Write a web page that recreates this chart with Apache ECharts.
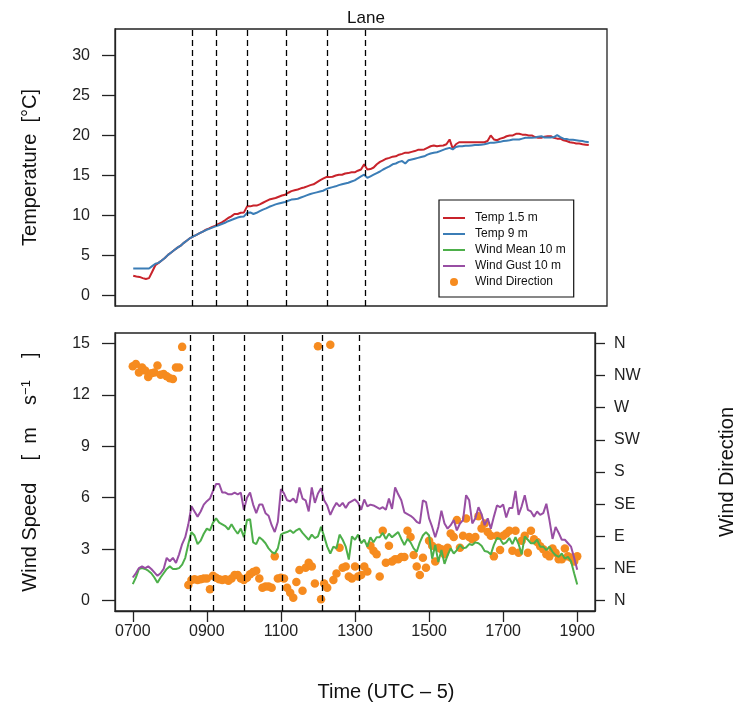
<!DOCTYPE html>
<html><head><meta charset="utf-8">
<script src="https://cdn.jsdelivr.net/npm/echarts@6/dist/echarts.min.js"></script>
<style>html,body{margin:0;padding:0;background:#fff}#c{width:745px;height:717px}</style>
</head><body><div id="c"></div>
<script>
// Sampling grid: 07:00 to 19:00, every 5 minutes
const startHour = 7;
const stepMinutes = 5;

// Temperature at 1.5 m (deg C)
const temp15 = [
 2.5,2.4,2.35,2.2,2.1,2.2,3.0,3.8,4.1,4.4,4.7,5.1,
 5.4,5.7,6.0,6.25,6.6,6.9,7.2,7.4,7.6,7.8,8.0,8.25,
 8.4,8.6,8.75,8.95,9.15,9.4,9.7,9.9,10.2,10.2,10.35,10.4,
 11.15,11.15,11.25,11.25,11.4,11.6,11.8,12.0,12.1,12.2,12.35,12.5,
 12.6,12.85,13.05,13.15,13.25,13.4,13.5,13.65,13.8,13.9,14.15,14.4,
 14.6,14.8,14.8,14.85,15.0,15.1,15.1,15.25,15.3,15.4,15.4,15.6,
 15.75,16.4,15.75,15.8,16.0,16.4,16.7,16.9,17.1,17.2,17.35,17.4,
 17.6,17.7,17.85,17.85,17.95,18.05,18.2,18.2,18.25,18.45,18.65,18.75,
 18.65,18.7,18.75,18.9,19.5,18.35,18.9,19.15,19.15,19.15,19.15,19.15,
 19.15,19.15,19.15,19.15,19.3,20.0,19.5,19.4,19.6,19.7,19.9,20.0,
 20.0,20.2,20.2,20.1,20.1,20.0,20.0,19.8,19.7,19.7,19.85,19.9,
 19.9,19.7,19.6,19.6,19.4,19.3,19.15,19.1,19.0,19.0,18.9,18.85,
 18.8];

// Temperature at 9 m (deg C)
const temp9 = [
 3.4,3.4,3.4,3.4,3.4,3.4,3.7,4.0,4.1,4.4,4.7,5.1,
 5.4,5.7,6.0,6.25,6.6,6.9,7.2,7.4,7.6,7.8,8.0,8.2,
 8.35,8.5,8.65,8.8,8.95,9.1,9.3,9.45,9.6,9.75,9.85,9.9,
 10.35,10.4,10.2,10.35,10.55,10.75,10.9,11.1,11.25,11.4,11.5,11.6,
 11.7,11.85,12.0,12.05,12.1,12.25,12.4,12.55,12.7,12.8,12.9,13.0,
 13.1,13.3,13.45,13.55,13.65,13.8,13.9,14.0,14.1,14.25,14.4,14.65,
 14.9,15.1,14.7,14.9,15.1,15.3,15.5,15.75,15.95,16.15,16.4,16.5,
 16.7,16.8,16.5,16.9,17.0,17.1,17.2,17.3,17.4,17.6,17.75,17.85,
 17.9,18.05,18.2,18.35,18.45,18.25,18.55,18.65,18.65,18.7,18.7,18.75,
 18.8,18.8,18.85,18.9,19.0,19.1,19.1,19.15,19.2,19.3,19.35,19.4,
 19.5,19.5,19.5,19.6,19.7,19.7,19.7,19.75,19.85,19.9,19.75,19.75,
 19.75,19.8,20.05,19.8,19.6,19.55,19.45,19.45,19.4,19.35,19.3,19.2,
 19.15];

// Wind mean 10 m (m/s)
const windMean = [
 0.97,1.35,1.85,1.9,1.85,1.75,1.6,1.35,1.05,1.35,1.6,1.85,
 2.0,1.85,1.85,1.9,2.1,2.5,3.3,4.0,3.8,3.3,3.5,3.9,
 4.2,4.1,4.55,4.8,4.55,4.45,4.35,4.15,4.45,4.15,3.9,4.2,
 3.7,4.7,4.75,3.4,3.3,3.7,3.55,3.35,3.05,2.85,2.75,3.05,
 3.85,3.95,4.0,4.1,3.95,4.1,4.2,3.95,3.75,3.55,3.85,3.65,
 3.75,4.3,3.75,3.15,2.75,3.15,3.05,3.85,3.55,3.15,2.4,3.75,
 3.55,3.85,3.35,3.55,3.15,3.7,3.4,3.7,3.7,3.95,3.6,3.9,
 3.7,3.85,4.0,3.6,3.25,3.6,3.4,3.05,2.85,3.4,3.8,4.0,
 3.8,2.45,3.25,2.25,2.95,2.15,2.65,3.05,2.75,2.95,3.25,3.05,
 3.1,3.3,3.25,3.4,3.35,3.2,2.9,2.85,2.7,3.25,3.65,3.6,
 3.3,3.4,3.65,3.3,3.7,3.3,2.7,3.75,3.55,3.35,3.35,3.55,
 3.15,3.15,2.95,3.15,2.85,2.65,2.55,2.75,2.45,2.55,2.3,1.6,
 0.95];

// Wind gust 10 m (m/s)
const windGust = [
 1.35,1.6,1.9,2.0,1.9,2.0,1.85,1.65,1.45,1.6,1.85,2.5,
 2.3,2.5,2.2,2.7,3.3,3.7,4.45,5.5,5.2,4.9,5.2,5.6,
 5.8,5.95,6.4,6.8,6.8,6.3,6.3,6.2,6.2,6.3,6.2,6.3,
 5.3,6.0,6.3,5.6,5.1,5.6,5.6,5.1,4.95,4.4,4.0,4.6,
 6.5,6.25,5.85,5.8,5.95,5.7,6.6,5.95,5.85,5.2,6.6,5.7,
 6.25,6.55,5.85,5.55,5.0,5.4,5.7,5.5,5.7,5.4,5.7,5.8,
 5.9,5.7,5.3,5.9,5.5,5.6,5.55,5.45,5.35,5.45,5.3,5.95,
 5.35,6.6,6.2,5.85,5.15,5.05,4.95,4.8,4.6,4.5,5.85,5.75,
 4.8,4.3,3.7,4.3,5.25,4.5,4.2,4.4,4.7,4.1,4.5,4.7,
 6.15,5.85,4.5,4.8,5.45,5.05,4.4,4.8,4.2,4.9,5.55,5.45,
 5.6,4.85,5.4,5.4,6.4,5.0,5.5,6.15,5.3,5.2,4.9,5.2,
 5.0,5.1,5.65,4.7,3.6,4.3,3.95,3.55,3.55,3.35,3.15,2.5,
 1.8];

// Wind direction (degrees from N)
const windDir = [
 328,331,319,326,322,313,318,319,329,316,317,314,
 311,310,326,326,355,null,22,29,30,29,30,31,
 31,16,35,32,30,29,30,28,31,36,36,31,
 29,32,37,40,42,31,18,20,20,18,62,31,
 32,31,18,11,4,26,43,14,46,53,48,24,
 356,2,24,18,358,29,38,74,46,48,34,31,
 48,34,36,48,41,77,70,65,34,98,53,77,
 55,58,58,61,61,98,89,64,48,36,60,46,
 84,77,55,74,72,65,74,94,89,113,74,91,
 115,89,86,89,118,101,108,96,91,62,91,71,
 91,94,98,70,98,67,84,91,67,98,86,82,
 76,72,65,62,73,67,58,58,73,62,60,55,
 62];

// Dashed event times (hours)
const eventHours = [8.56, 9.18, 10.0, 11.03, 12.12, 13.11];

// Ticks
const timeTicks = [7, 9, 11, 13, 15, 17, 19];
const timeTickLabels = ['0700','0900','1100','1300','1500','1700','1900'];
const tempTicks = [0, 5, 10, 15, 20, 25, 30];
const speedTicks = [0, 3, 6, 9, 12, 15];
const dirTicks = [0, 45, 90, 135, 180, 225, 270, 315, 360];
const dirTickLabels = ['N','NE','E','SE','S','SW','W','NW','N'];

const seriesNames = ['Temp 1.5 m','Temp 9 m','Wind Mean 10 m','Wind Gust 10 m','Wind Direction'];
const colors = {t15:'#C8232B', t9:'#3B7DB6', mean:'#4DAF4A', gust:'#984EA3', dir:'#F68B1F'};

function toPairs(arr) {
  return arr.map((v, i) => [startHour + i * stepMinutes / 60, v]);
}

const FONT = 'Liberation Sans, Arial, sans-serif';
const axisCol = '#222';

const xRange = {min: 6.52, max: 19.48};
const tempRange = {min: -1.28, max: 33.28};
const speedRange = {min: -0.6, max: 15.6};
const dirRange = {min: -14.4, max: 374.4};

const labelStyle = {fontFamily: FONT, fontSize: 16, color: '#222'};
const titleStyle = {fontFamily: FONT, fontSize: 20, color: '#111'};
// thin horizontal bar inside an 22x8 box (used as legend line icon)
const lineIcon = 'path://M0,0 L22,0 L22,0 Z M0,3 L22,3 L22,5 L0,5 Z M0,8 L22,8 L22,8 Z';
const dashLine = {
  symbol: 'none', silent: true, animation: false,
  label: {show: false},
  lineStyle: {color: '#000', type: [6, 4], width: 1.3},
  data: eventHours.map(h => ({xAxis: h}))
};

const chart = echarts.init(document.getElementById('c'), null, {renderer: 'canvas'});
chart.setOption({
  animation: false,
  backgroundColor: '#fff',
  title: {
    text: 'Lane', left: 361, top: 5, textAlign: 'center',
    textStyle: {fontFamily: FONT, fontSize: 17, fontWeight: 'normal', color: '#111'}
  },
  legend: {
    data: [
      {name: seriesNames[0], icon: lineIcon}, {name: seriesNames[1], icon: lineIcon},
      {name: seriesNames[2], icon: lineIcon}, {name: seriesNames[3], icon: lineIcon},
      {name: seriesNames[4], icon: 'circle'}
    ],
    orient: 'vertical', left: 439, top: 200,
    itemWidth: 22, itemHeight: 8, itemGap: 4,
    padding: [12, 8, 9, 4],
    backgroundColor: '#fff', borderColor: '#111', borderWidth: 1.2,
    textStyle: {fontFamily: FONT, fontSize: 12, color: '#111', padding: [0, 0, 0, 5]},
    selectedMode: false
  },
  grid: [
    {left: 115, right: 138, top: 29, height: 277, show: true, borderColor: axisCol, borderWidth: 1.3, backgroundColor: 'transparent'},
    {left: 115, right: 138, top: 333, height: 278, show: true, borderColor: axisCol, borderWidth: 1.3, backgroundColor: 'transparent'}
  ],
  xAxis: [
    {type: 'value', gridIndex: 0, min: xRange.min, max: xRange.max,
     axisLine: {show: false}, axisTick: {show: false}, axisLabel: {show: false}, splitLine: {show: false}},
    {type: 'value', gridIndex: 1, min: xRange.min, max: xRange.max,
     axisLine: {show: true, onZero: false, lineStyle: {color: axisCol, width: 1.3}},
     axisTick: {show: true, customValues: timeTicks, length: 11, lineStyle: {color: axisCol, width: 1.3}},
     axisLabel: {show: true, customValues: timeTicks, margin: 13, ...labelStyle,
       formatter: v => timeTickLabels[timeTicks.indexOf(Math.round(v))] || ''},
     splitLine: {show: false},
     name: 'Time (UTC \u2013 5)', nameLocation: 'middle', nameGap: 71,
     nameTextStyle: {...titleStyle, padding: [0, 0, 0, 62]}}
  ],
  yAxis: [
    {type: 'value', gridIndex: 0, min: tempRange.min, max: tempRange.max,
     axisLine: {show: true, onZero: false, lineStyle: {color: axisCol, width: 1.3}},
     axisTick: {show: true, customValues: tempTicks, length: 13, lineStyle: {color: axisCol, width: 1.3}},
     axisLabel: {show: true, customValues: tempTicks, margin: 25, ...labelStyle},
     splitLine: {show: false},
     name: 'Temperature  [\u00B0C]', nameLocation: 'middle', nameGap: 75,
     nameTextStyle: titleStyle},
    {type: 'value', gridIndex: 1, min: speedRange.min, max: speedRange.max,
     axisLine: {show: true, onZero: false, lineStyle: {color: axisCol, width: 1.3}},
     axisTick: {show: true, customValues: speedTicks, length: 13, lineStyle: {color: axisCol, width: 1.3}},
     axisLabel: {show: true, customValues: speedTicks, margin: 25, ...labelStyle},
     splitLine: {show: false},
     name: '{a|Wind Speed    [  m    s}{s|\u22121}{a|    ]}', nameLocation: 'middle', nameGap: 75,
     nameTextStyle: {...titleStyle,
       rich: {a: {...titleStyle},
              s: {fontFamily: FONT, fontSize: 13, color: '#111', verticalAlign: 'top', lineHeight: 12}}}},
    {type: 'value', gridIndex: 1, position: 'right', min: dirRange.min, max: dirRange.max,
     axisLine: {show: true, onZero: false, lineStyle: {color: axisCol, width: 1.3}},
     axisTick: {show: true, customValues: dirTicks, length: 10, lineStyle: {color: axisCol, width: 1.3}},
     axisLabel: {show: true, customValues: dirTicks, margin: 19, ...labelStyle,
       formatter: v => dirTickLabels[dirTicks.indexOf(Math.round(v))] || ''},
     splitLine: {show: false},
     name: 'Wind Direction', nameLocation: 'middle', nameGap: 122, nameRotate: 90,
     nameTextStyle: titleStyle}
  ],
  series: [
    {name: seriesNames[0], type: 'line', xAxisIndex: 0, yAxisIndex: 0, data: toPairs(temp15),
     symbol: 'none', lineStyle: {color: colors.t15, width: 2}, itemStyle: {color: colors.t15},
     markLine: dashLine},
    {name: seriesNames[1], type: 'line', xAxisIndex: 0, yAxisIndex: 0, data: toPairs(temp9),
     symbol: 'none', lineStyle: {color: colors.t9, width: 2}, itemStyle: {color: colors.t9}},
    {name: seriesNames[2], type: 'line', xAxisIndex: 1, yAxisIndex: 1, data: toPairs(windMean),
     symbol: 'none', lineStyle: {color: colors.mean, width: 2}, itemStyle: {color: colors.mean},
     markLine: dashLine},
    {name: seriesNames[3], type: 'line', xAxisIndex: 1, yAxisIndex: 1, data: toPairs(windGust),
     symbol: 'none', lineStyle: {color: colors.gust, width: 2}, itemStyle: {color: colors.gust}},
    {name: seriesNames[4], type: 'scatter', xAxisIndex: 1, yAxisIndex: 2, data: toPairs(windDir).filter(p => p[1] !== null),
     symbol: 'circle', symbolSize: 8.5, itemStyle: {color: colors.dir, opacity: 1}}
  ]
});
</script>
</body></html>
